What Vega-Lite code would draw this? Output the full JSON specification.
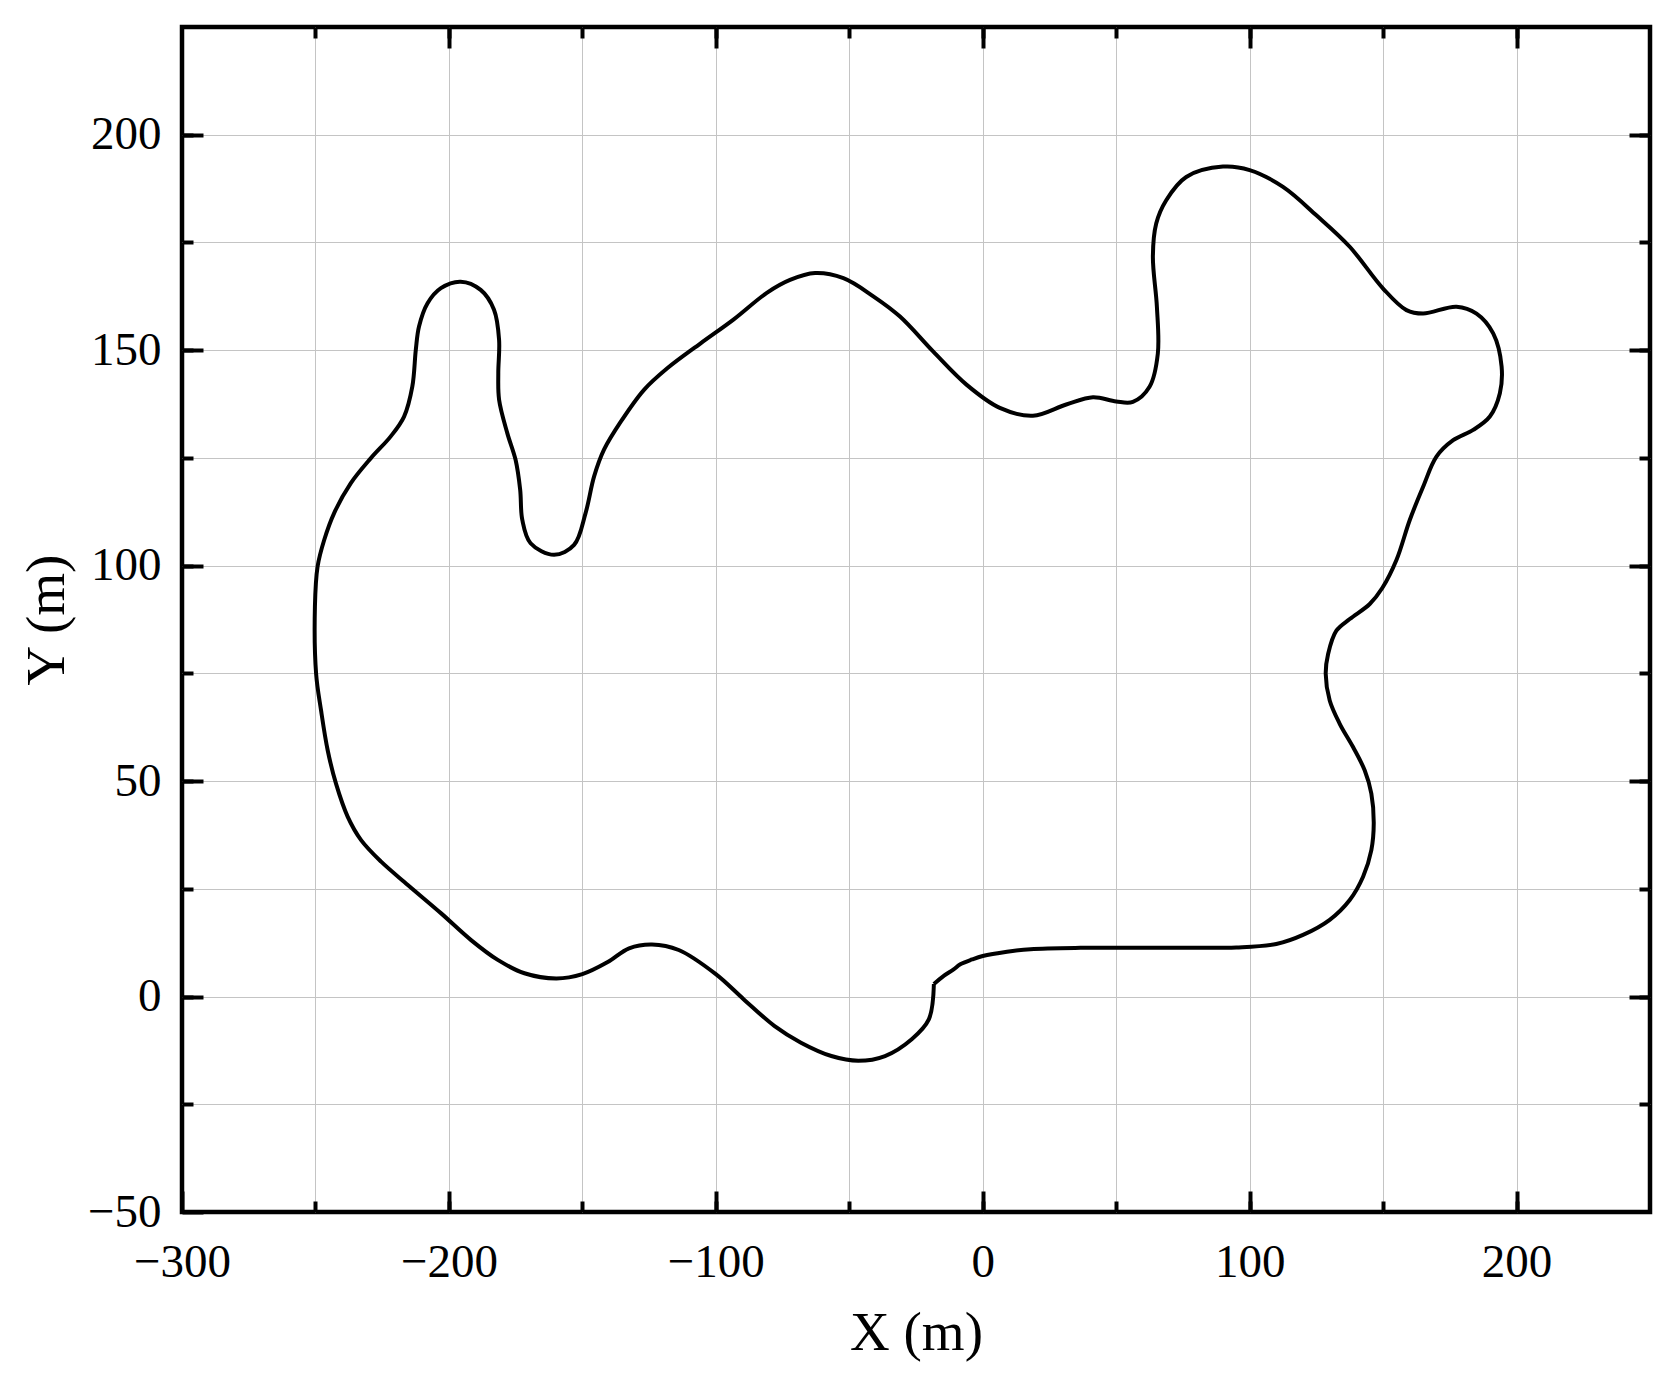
{
  "$schema": "https://vega.github.io/schema/vega-lite/v6.json",
  "width": 1468,
  "height": 1185,
  "autosize": {"type": "none"},
  "padding": {"left": 182, "top": 27, "right": 25, "bottom": 169},
  "background": "white",
  "config": {
    "view": {"stroke": "black", "strokeWidth": 4.5},
    "axis": {
      "domain": false,
      "tickColor": "black",
      "tickWidth": 4,
      "gridColor": "#c4c4c4",
      "gridWidth": 1,
      "labelFont": "Liberation Serif",
      "labelFontSize": 47,
      "labelColor": "black",
      "titleFont": "Liberation Serif",
      "titleFontSize": 55,
      "titleFontWeight": "normal",
      "titleColor": "black",
      "labelFlush": false,
      "labelOverlap": false
    }
  },
  "data": {
    "values": [
      {"i": 1, "x": -18.3, "y": 2.9},
      {"i": 2, "x": -14.6, "y": 4.8},
      {"i": 3, "x": -10.9, "y": 6.3},
      {"i": 4, "x": -8.4, "y": 7.5},
      {"i": 5, "x": -4, "y": 8.6},
      {"i": 6, "x": 0, "y": 9.4},
      {"i": 7, "x": 9.1, "y": 10.4},
      {"i": 8, "x": 17.9, "y": 11.0},
      {"i": 9, "x": 36.6, "y": 11.3},
      {"i": 10, "x": 60, "y": 11.3},
      {"i": 11, "x": 80, "y": 11.3},
      {"i": 12, "x": 95, "y": 11.4},
      {"i": 13, "x": 110, "y": 12.2},
      {"i": 14, "x": 120, "y": 14.3},
      {"i": 15, "x": 130, "y": 17.8},
      {"i": 16, "x": 137.5, "y": 22.4},
      {"i": 17, "x": 142.5, "y": 27.8},
      {"i": 18, "x": 145.6, "y": 34},
      {"i": 19, "x": 146.5, "y": 40.2},
      {"i": 20, "x": 145.6, "y": 47.1},
      {"i": 21, "x": 143.1, "y": 52.5},
      {"i": 22, "x": 138.75, "y": 57.9},
      {"i": 23, "x": 133.75, "y": 63.3},
      {"i": 24, "x": 130, "y": 68.7},
      {"i": 25, "x": 128.5, "y": 74.9},
      {"i": 26, "x": 129.4, "y": 79.5},
      {"i": 27, "x": 132.5, "y": 84.9},
      {"i": 28, "x": 137.5, "y": 87.6},
      {"i": 29, "x": 145, "y": 91.1},
      {"i": 30, "x": 149.7, "y": 94.8},
      {"i": 31, "x": 155, "y": 101.3},
      {"i": 32, "x": 160, "y": 110.6},
      {"i": 33, "x": 165, "y": 118.3},
      {"i": 34, "x": 170, "y": 125.3},
      {"i": 35, "x": 176.25, "y": 129.1},
      {"i": 36, "x": 183.75, "y": 131.5},
      {"i": 37, "x": 190, "y": 134.6},
      {"i": 38, "x": 193.75, "y": 140},
      {"i": 39, "x": 194.4, "y": 146.2},
      {"i": 40, "x": 191.25, "y": 153.9},
      {"i": 41, "x": 185, "y": 158.5},
      {"i": 42, "x": 177.5, "y": 160.1},
      {"i": 43, "x": 165, "y": 158.5},
      {"i": 44, "x": 158.75, "y": 159.3},
      {"i": 45, "x": 150, "y": 164.3},
      {"i": 46, "x": 137.5, "y": 174},
      {"i": 47, "x": 125, "y": 181.3},
      {"i": 48, "x": 112.5, "y": 187.9},
      {"i": 49, "x": 100, "y": 191.8},
      {"i": 50, "x": 90, "y": 192.6},
      {"i": 51, "x": 76.25, "y": 190.2},
      {"i": 52, "x": 68.75, "y": 184.8},
      {"i": 53, "x": 65, "y": 179.4},
      {"i": 54, "x": 63.75, "y": 171.7},
      {"i": 55, "x": 65.25, "y": 160.1},
      {"i": 56, "x": 65.6, "y": 149.2},
      {"i": 57, "x": 62.5, "y": 141.5},
      {"i": 58, "x": 56.25, "y": 138},
      {"i": 59, "x": 50, "y": 138.1},
      {"i": 60, "x": 41.3, "y": 139.1},
      {"i": 61, "x": 31.3, "y": 137.4},
      {"i": 62, "x": 18.8, "y": 134.8},
      {"i": 63, "x": 6.4, "y": 136.6},
      {"i": 64, "x": -6.1, "y": 142},
      {"i": 65, "x": -18.6, "y": 149.7},
      {"i": 66, "x": -31, "y": 157.8},
      {"i": 67, "x": -41, "y": 162.5},
      {"i": 68, "x": -52.2, "y": 166.7},
      {"i": 69, "x": -62.8, "y": 167.9},
      {"i": 70, "x": -72.2, "y": 166.3},
      {"i": 71, "x": -80.9, "y": 163.3},
      {"i": 72, "x": -93.4, "y": 157.1},
      {"i": 73, "x": -105.7, "y": 151.6},
      {"i": 74, "x": -118.2, "y": 145.8},
      {"i": 75, "x": -126.9, "y": 140.8},
      {"i": 76, "x": -135.6, "y": 133.4},
      {"i": 77, "x": -141.9, "y": 126.9},
      {"i": 78, "x": -145.6, "y": 120.7},
      {"i": 79, "x": -148.8, "y": 112.2},
      {"i": 80, "x": -153.1, "y": 104.8},
      {"i": 81, "x": -160.6, "y": 102.5},
      {"i": 82, "x": -169.4, "y": 105.2},
      {"i": 83, "x": -172.5, "y": 110.6},
      {"i": 84, "x": -173.3, "y": 117.6},
      {"i": 85, "x": -175, "y": 124.5},
      {"i": 86, "x": -178.1, "y": 130.7},
      {"i": 87, "x": -181.2, "y": 138.5},
      {"i": 88, "x": -181.5, "y": 144.7},
      {"i": 89, "x": -181.2, "y": 152.4},
      {"i": 90, "x": -183.1, "y": 159.4},
      {"i": 91, "x": -188.1, "y": 164},
      {"i": 92, "x": -195.6, "y": 165.9},
      {"i": 93, "x": -203, "y": 164.4},
      {"i": 94, "x": -208, "y": 160.9},
      {"i": 95, "x": -211.2, "y": 155.5},
      {"i": 96, "x": -212.4, "y": 150.1},
      {"i": 97, "x": -213.7, "y": 141.6},
      {"i": 98, "x": -216.8, "y": 134.6},
      {"i": 99, "x": -221.8, "y": 130},
      {"i": 100, "x": -229.3, "y": 124.9},
      {"i": 101, "x": -236.8, "y": 119.1},
      {"i": 102, "x": -243, "y": 112.2},
      {"i": 103, "x": -246.7, "y": 106},
      {"i": 104, "x": -249.2, "y": 99.8},
      {"i": 105, "x": -250.2, "y": 90.5},
      {"i": 106, "x": -249.75, "y": 74.9},
      {"i": 107, "x": -247.9, "y": 66.4},
      {"i": 108, "x": -245.4, "y": 57.1},
      {"i": 109, "x": -242.3, "y": 49.4},
      {"i": 110, "x": -237.9, "y": 41.7},
      {"i": 111, "x": -232.9, "y": 36.3},
      {"i": 112, "x": -225.4, "y": 31.3},
      {"i": 113, "x": -215.4, "y": 25.9},
      {"i": 114, "x": -202.9, "y": 19.3},
      {"i": 115, "x": -191.7, "y": 13.1},
      {"i": 116, "x": -181.7, "y": 8.5},
      {"i": 117, "x": -171.7, "y": 5.4},
      {"i": 118, "x": -159.7, "y": 4.2},
      {"i": 119, "x": -150, "y": 5.2},
      {"i": 120, "x": -140.5, "y": 8.0},
      {"i": 121, "x": -132.5, "y": 11.2},
      {"i": 122, "x": -123.9, "y": 12.1},
      {"i": 123, "x": -113.9, "y": 10.8},
      {"i": 124, "x": -100, "y": 5.2},
      {"i": 125, "x": -89.6, "y": -0.6},
      {"i": 126, "x": -78.1, "y": -6.8},
      {"i": 127, "x": -68.1, "y": -10.7},
      {"i": 128, "x": -56.7, "y": -13.8},
      {"i": 129, "x": -46.6, "y": -14.9},
      {"i": 130, "x": -36.6, "y": -13.8},
      {"i": 131, "x": -26.6, "y": -9.9},
      {"i": 132, "x": -20.2, "y": -5.3},
      {"i": 133, "x": -18.3, "y": 2.9}
    ]
  },
  "layer": [
    {
      "mark": {"type": "line", "strokeOpacity": 0},
      "encoding": {
        "x": {"field": "x", "type": "quantitative", "scale": {"domain": [-300, 250], "nice": false, "zero": false},
          "axis": {"orient": "bottom", "values": [-250, -200, -150, -100, -50, 0, 50, 100, 150, 200], "tickSize": -11, "labels": false, "title": null, "grid": true}},
        "y": {"field": "y", "type": "quantitative", "scale": {"domain": [-50, 225], "nice": false, "zero": false},
          "axis": {"orient": "left", "values": [-25, 0, 25, 50, 75, 100, 125, 150, 175, 200], "tickSize": -11, "labels": false, "title": null, "grid": true}},
        "order": {"field": "i"}
      }
    },
    {
      "mark": {"type": "line", "strokeOpacity": 0},
      "encoding": {
        "x": {"field": "x", "type": "quantitative",
          "axis": {"orient": "top", "values": [-250, -200, -150, -100, -50, 0, 50, 100, 150, 200], "tickSize": -11, "labels": false, "title": null, "grid": false}},
        "y": {"field": "y", "type": "quantitative",
          "axis": {"orient": "right", "values": [-25, 0, 25, 50, 75, 100, 125, 150, 175, 200], "tickSize": -11, "labels": false, "title": null, "grid": false}},
        "order": {"field": "i"}
      }
    },
    {
      "mark": {"type": "line", "strokeOpacity": 0},
      "encoding": {
        "x": {"field": "x", "type": "quantitative",
          "axis": {"orient": "top", "values": [-200, -100, 0, 100, 200], "tickSize": -21, "labels": false, "title": null, "grid": false}},
        "y": {"field": "y", "type": "quantitative",
          "axis": {"orient": "right", "values": [0, 50, 100, 150, 200], "tickSize": -21, "labels": false, "title": null, "grid": false}},
        "order": {"field": "i"}
      }
    },
    {
      "mark": {"type": "line", "color": "black", "strokeWidth": 4, "interpolate": "catmull-rom"},
      "encoding": {
        "x": {"field": "x", "type": "quantitative",
          "axis": {"orient": "bottom", "values": [-300, -200, -100, 0, 100, 200], "tickSize": -21, "labelPadding": 48, "title": "X (m)", "titlePadding": 21, "grid": false}},
        "y": {"field": "y", "type": "quantitative",
          "axis": {"orient": "left", "values": [-50, 0, 50, 100, 150, 200], "tickSize": -21, "labelPadding": 42, "title": "Y (m)", "titlePadding": 12, "grid": false}},
        "order": {"field": "i"}
      }
    }
  ],
  "resolve": {"axis": {"x": "independent", "y": "independent"}}
}
